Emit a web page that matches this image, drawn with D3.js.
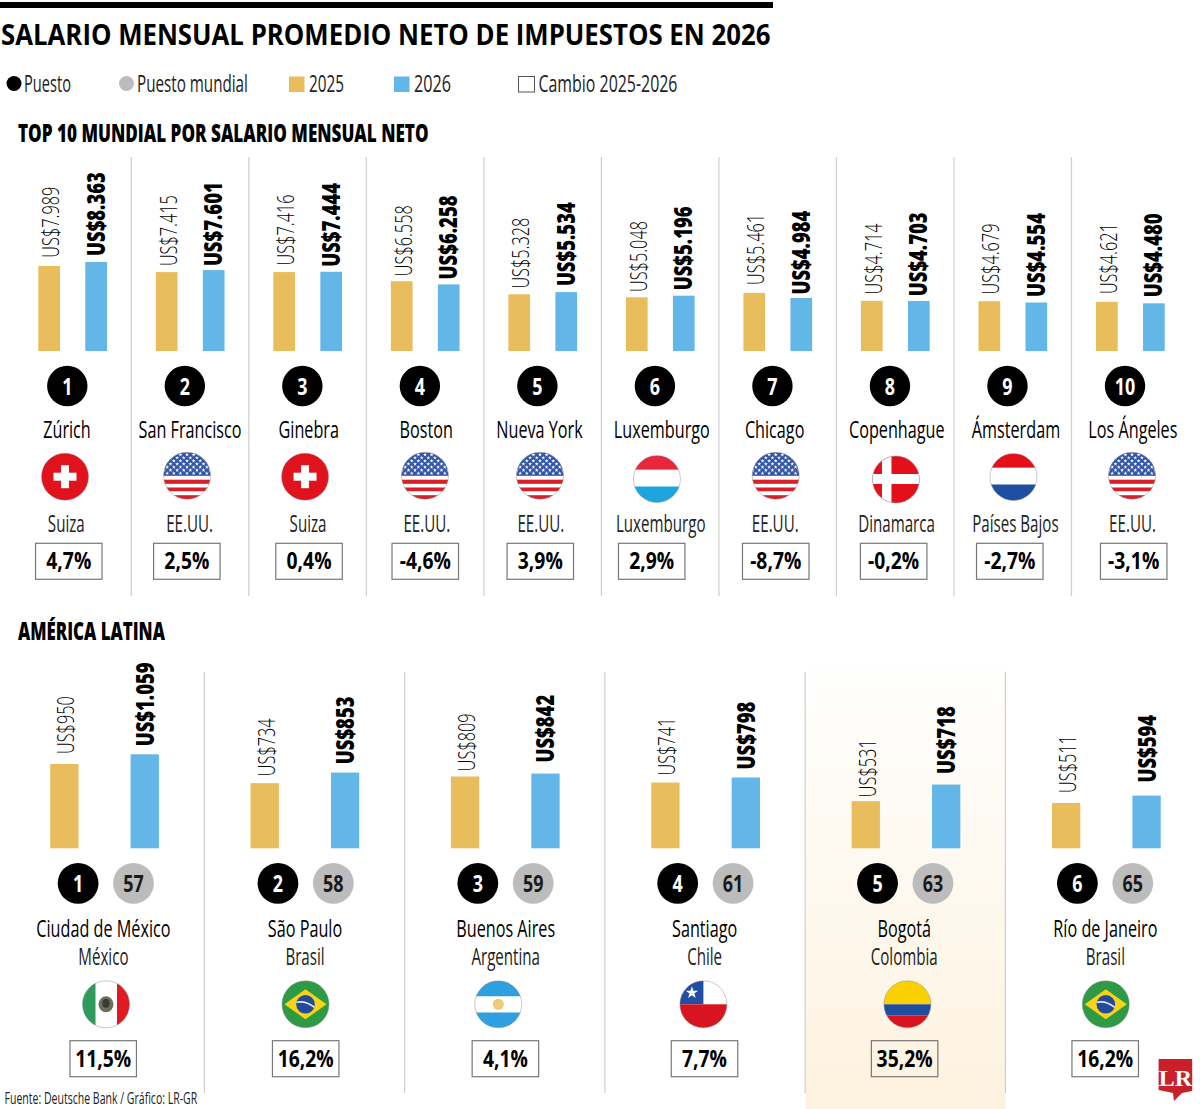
<!DOCTYPE html>
<html lang="es"><head><meta charset="utf-8">
<title>Salario mensual promedio neto de impuestos en 2026</title>
<script src="https://cdn.jsdelivr.net/npm/d3@7/dist/d3.min.js"></script>
<style>html,body{margin:0;padding:0;background:#fff}svg{display:block}text{font-family:"Open Sans",sans-serif;fill:#111}</style>
</head><body><svg id="c" width="1200" height="1109" viewBox="0 0 1200 1109"></svg>
<script>
// ---------- DATA ----------
const topCities = ["Zúrich","San Francisco","Ginebra","Boston","Nueva York","Luxemburgo","Chicago","Copenhague","Ámsterdam","Los Ángeles"];
const topCountries = ["Suiza","EE.UU.","Suiza","EE.UU.","EE.UU.","Luxemburgo","EE.UU.","Dinamarca","Países Bajos","EE.UU."];
const topValues2025 = [7989,7415,7416,6558,5328,5048,5461,4714,4679,4621];
const topValues2026 = [8363,7601,7444,6258,5534,5196,4984,4703,4554,4480];
const topChange = [4.7,2.5,0.4,-4.6,3.9,2.9,-8.7,-0.2,-2.7,-3.1];
const topRanks = [1,2,3,4,5,6,7,8,9,10];

const latamCities = ["Ciudad de México","São Paulo","Buenos Aires","Santiago","Bogotá","Río de Janeiro"];
const latamCountries = ["México","Brasil","Argentina","Chile","Colombia","Brasil"];
const latamValues2025 = [950,734,809,741,531,511];
const latamValues2026 = [1059,853,842,798,718,594];
const latamChange = [11.5,16.2,4.1,7.7,35.2,16.2];
const latamRanks = [1,2,3,4,5,6];
const latamWorldRanks = [57,58,59,61,63,65];

const legendLabels = ["Puesto","Puesto mundial","2025","2026","Cambio 2025-2026"];

// ---------- LAYOUT ----------
const YEL="#e9bd5c", BLU="#62b6e8", GRY="#bcbcbc", SEP="#cfcfcf";
const colTop = d3.scaleLinear().domain([0,9]).range([38.3,1096]);
const colLat = d3.scaleLinear().domain([0,5]).range([50.2,1052]);
const yTop = d3.scaleLinear().domain([0,8363]).range([351,262]);
const yLat = d3.scaleLinear().domain([0,1059]).range([848.3,754.3]);
const topCityDx=[28.7,34.2,35.4,35.4,31.1,35.9,31.2,35.8,37.5,36.9];
const topFlagDx=[26.7,31.2,31.7,34.1,31.6,31,32.3,35,35,36];
const topCountryDx=[28,33.7,34.7,35.9,32.4,34.8,31.8,35.6,36.9,36.5];
const topBoxDx=[30.5,31,35.7,34.4,31.9,25.8,32.3,32.7,31.3,37.7];
const latCellX=[103.4,305,505.7,704.6,904.2,1105.4];
const latFlagX=[106,305.5,498.3,703.4,907.4,1105.8];
const latBoxX=[103.2,305.7,505.4,704.5,904.6,1105.2];
const latRankX=d3.scaleLinear().domain([0,5]).range([78.1,1077.4]);
const latSepX=d3.scaleLinear().domain([0,4]).range([204.4,1005.4]);
// distance between each bar top and its rotated value label
const gapTop25=[9.3,7,7.7,6,6.7,6.3,9,7.4,7.7,8.7];
const gapTop26=[7,5,6,6,7,6.4,4.4,5.7,6.6,7];
const gapLat25=[11,8,6.3,8,5,11];
const gapLat26=[9,9.4,12,9,11.6,14];

const loc = d3.formatLocale({decimal:",",thousands:".",grouping:[3],currency:["US$",""],minus:"-"});
const fmtMoney = loc.format("$,");
const fmtPct = v => loc.format(".1f")(v)+"%";

const svg = d3.select("#c");
const defs = svg.append("defs");
const grad = defs.append("linearGradient").attr("id","hl").attr("x1",0).attr("x2",0).attr("y1",0).attr("y2",1);
grad.append("stop").attr("offset",0).attr("stop-color","#fff");
grad.append("stop").attr("offset",1).attr("stop-color","#fdf2df");

// text helper: condensed look by horizontal scaling
const probe = svg.append("text").attr("opacity",0);
function measure(t,size,weight){probe.text(t).attr("font-size",size).attr("font-weight",weight);return probe.node().getComputedTextLength();}
function txt(g,t,x,y,o){
  const sx = o.width ? o.width/measure(t,o.size,o.weight) : (o.sx||1);
  const rot = o.rotate ? ` rotate(${o.rotate})` : "";
  return g.append("text").text(t).attr("font-size",o.size).attr("font-weight",o.weight)
    .attr("text-anchor",o.anchor||"start").style("fill",o.fill||"#111")
    .attr("transform",`translate(${x},${y})${rot} scale(${sx},1)`);
}
const sxLight = 71/measure("US$7.989",24,300);
const sxBold = 84/measure("US$8.363",25,800);
const sxCity = 103/measure("San Francisco",24,500);
const sxCountry = 89.6/measure("Luxemburgo",23,400);
const sxPct = 45/measure("4,7%",23,700);
const sxRank = 20.5/measure("57",23,700);

// ---------- FLAGS ----------
const flagY = {"Suiza":476.7,"EE.UU.":475.7,"Luxemburgo":479,"Dinamarca":479.5,"Países Bajos":477};
let flagId=0;
function bands(g,rows){
  let y=-23.5; rows.forEach(([h,c])=>{g.append("rect").attr("x",-24).attr("y",y).attr("width",48).attr("height",h).attr("fill",c); y+=h;});
}
function flag(parent,name,x,y){
  const id="fc"+(flagId++);
  defs.append("clipPath").attr("id",id).append("circle").attr("r",23.5);
  const o=parent.append("g").attr("transform",`translate(${x},${y})`);
  const g=o.append("g").attr("clip-path",`url(#${id})`);
  const rect=(a,b,w,h,c)=>g.append("rect").attr("x",a).attr("y",b).attr("width",w).attr("height",h).attr("fill",c);
  if(name==="Suiza"){ rect(-24,-24,48,48,"#e0121c"); rect(-11.5,-4,23,8,"#fff"); rect(-4,-11.5,8,23,"#fff"); }
  else if(name==="EE.UU."){
    bands(g,[[23.7,"#3356a6"],[3.8,"#fff"],[4.2,"#d8202a"],[3.6,"#fff"],[4,"#d8202a"],[3.7,"#fff"],[5,"#d8202a"]]);
    const star=d3.symbol().type(d3.symbolStar).size(5)();
    d3.range(0,4).forEach(r=>d3.range(-4,5).forEach(c=>[0,1].forEach(k=>{
      const sy=-21+k*3.1+r*6.2, sx=c*6.6+(k?3.3:0);
      if(sy<-1) g.append("path").attr("d",star).attr("fill","#fff").attr("transform",`translate(${sx},${sy})`);
    })));
  }
  else if(name==="Luxemburgo") bands(g,[[14.3,"#e8273d"],[16.7,"#fff"],[17,"#1fa5de"]]);
  else if(name==="Países Bajos") bands(g,[[14.3,"#e30f1a"],[16.7,"#fff"],[17,"#1f4fa0"]]);
  else if(name==="Dinamarca"){ rect(-24,-24,48,48,"#e30f1a"); rect(-24,-5.5,48,10,"#fff"); rect(-14,-24,9.5,48,"#fff"); }
  else if(name==="México"){ rect(-24,-24,48,48,"#fff"); rect(-24,-24,13.5,48,"#2f9a5c"); rect(11,-24,13,48,"#e01a22");
    g.append("ellipse").attr("rx",7.5).attr("ry",8).attr("fill","#6e6e5c"); g.append("ellipse").attr("rx",3.5).attr("ry",4.5).attr("cy",-1).attr("fill","#3a3a2e"); }
  else if(name==="Brasil"){ rect(-24,-24,48,48,"#2f9a46");
    g.append("path").attr("d","M-21,0L0,-15L21,0L0,15Z").attr("fill","#f7d417");
    g.append("circle").attr("r",9.3).attr("fill","#234a9b");
    g.append("path").attr("d","M-9,-2Q0,-4 9,3").attr("fill","none").attr("stroke","#dfe7f2").attr("stroke-width",1.6); }
  else if(name==="Argentina"){ bands(g,[[15.7,"#2f9fe0"],[16,"#fff"],[16,"#2f9fe0"]]); g.append("circle").attr("r",5.6).attr("fill","#efcb7a"); }
  else if(name==="Chile"){ rect(-24,-24,48,24,"#fff"); rect(-24,-24,24,24,"#1f4ea3"); rect(-24,0,48,24,"#d7141f");
    g.append("path").attr("d",d3.symbol().type(d3.symbolStar).size(48)()).attr("fill","#fff").attr("transform","translate(-11.5,-11.5)"); }
  else if(name==="Colombia"){ bands(g,[[23.5,"#fbd000"],[11.3,"#1f4e9f"],[13,"#d7141f"]]); }
  o.append("circle").attr("r",23.5).attr("fill","none").attr("stroke","#8a8a8a").attr("stroke-opacity",.45).attr("stroke-width",1);
}

// ---------- HEADER ----------
svg.append("rect").attr("x",0).attr("y",2).attr("width",773).attr("height",6).attr("fill","#000");
txt(svg,"SALARIO MENSUAL PROMEDIO NETO DE IMPUESTOS EN 2026",1,44.5,{size:28,weight:700,width:770,fill:"#000"});

const lg=svg.append("g");
lg.append("circle").attr("cx",14).attr("cy",83.5).attr("r",7.5).attr("fill","#000");
lg.append("circle").attr("cx",126.5).attr("cy",83.5).attr("r",7.5).attr("fill",GRY);
lg.append("rect").attr("x",289).attr("y",76.5).attr("width",15.5).attr("height",15.5).attr("fill",YEL);
lg.append("rect").attr("x",394).attr("y",76.5).attr("width",15.5).attr("height",15.5).attr("fill",BLU);
lg.append("rect").attr("x",518.5).attr("y",76.5).attr("width",16).attr("height",15.5).attr("fill","#fff").attr("stroke","#555").attr("stroke-width",1);
const legendX=[24,137,309,414,538.5], legendW=[47,111,35,37,139];
legendLabels.forEach((t,i)=>txt(lg,t,legendX[i],92,{size:23,weight:400,width:legendW[i],fill:"#222"}));

txt(svg,"TOP 10 MUNDIAL POR SALARIO MENSUAL NETO",18,142,{size:24,weight:800,width:411,fill:"#000"});
txt(svg,"AMÉRICA LATINA",18,640,{size:24,weight:800,width:147,fill:"#000"});

// ---------- HIGHLIGHT ----------
svg.append("rect").attr("x",805.6).attr("y",655).attr("width",199.8).attr("height",454).attr("fill","url(#hl)");

// ---------- SEPARATORS ----------
svg.append("g").selectAll("line").data(d3.range(9)).join("line")
  .attr("x1",i=>colTop(i)+93).attr("x2",i=>colTop(i)+93).attr("y1",157).attr("y2",596)
  .attr("stroke",SEP).attr("stroke-width",1.2);
svg.append("g").selectAll("line").data(d3.range(5)).join("line")
  .attr("x1",i=>latSepX(i)).attr("x2",i=>latSepX(i)).attr("y1",672).attr("y2",1093)
  .attr("stroke",SEP).attr("stroke-width",1.2);

// ---------- BARS + VALUE LABELS ----------
function barGroup(values,cls,colScale,yScale,dx,w,fill,gaps,baseDx,weight,sx,size,color){
  const g=svg.append("g").attr("class",cls);
  g.selectAll("rect").data(values).join("rect")
    .attr("x",(d,i)=>colScale(i)+dx).attr("y",d=>yScale(d))
    .attr("width",w).attr("height",d=>yScale(0)-yScale(d)).attr("fill",fill);
  values.forEach((d,i)=>txt(g,fmtMoney(d),colScale(i)+dx+w/2+baseDx,yScale(d)-gaps[i]+1,{size,weight,sx,rotate:-90,fill:color}));
}
barGroup(topValues2025,"top25",colTop,yTop,0,21.7,YEL,gapTop25,10,300,sxLight,24,"#000");
barGroup(topValues2026,"top26",colTop,yTop,47,21.7,BLU,gapTop26,8.5,800,sxBold,25,"#000");
barGroup(latamValues2025,"lat25",colLat,yLat,0,28.3,YEL,gapLat25,10,300,sxLight,24,"#000");
barGroup(latamValues2026,"lat26",colLat,yLat,80.4,28.3,BLU,gapLat26,9,800,sxBold,25,"#000");

// ---------- RANKS ----------
function rankDot(x,cy,r,fill,label,color){
  svg.append("circle").attr("cx",x).attr("cy",cy).attr("r",r).attr("fill",fill);
  txt(svg,label,x,cy+8.6,{size:23,weight:700,sx:sxRank,anchor:"middle",fill:color});
}
topRanks.forEach((d,i)=>rankDot(colTop(i)+29,386,20.2,"#000",String(d),"#fff"));
latamRanks.forEach((d,i)=>rankDot(latRankX(i),883.3,20.4,"#000",String(d),"#fff"));
latamWorldRanks.forEach((d,i)=>rankDot(latRankX(i)+55.4,883.3,20.4,GRY,String(d),"#1a1a1a"));

// ---------- CHANGE BOX ----------
function changeBox(x,y,w,v){
  svg.append("rect").attr("x",x-w/2).attr("y",y).attr("width",w).attr("height",36).attr("fill","none")
    .attr("stroke","#777").attr("stroke-width",1.2);
  txt(svg,fmtPct(v),x,y+26,{size:23,weight:700,sx:sxPct,anchor:"middle",fill:"#000"});
}

// ---------- TOP 10 CELLS ----------
topCities.forEach((c,i)=>{
  const x0=colTop(i);
  txt(svg,c,x0+topCityDx[i],438,{size:24,weight:500,sx:sxCity,anchor:"middle",fill:"#000"});
  flag(svg,topCountries[i],x0+topFlagDx[i],flagY[topCountries[i]]);
  txt(svg,topCountries[i],x0+topCountryDx[i],531.5,{size:23,weight:400,sx:sxCountry,anchor:"middle",fill:"#222"});
  changeBox(x0+topBoxDx[i],543.3,66.5,topChange[i]);
});

// ---------- LATAM CELLS ----------
latamCities.forEach((c,i)=>{
  txt(svg,c,latCellX[i],937.3,{size:24,weight:500,sx:sxCity,anchor:"middle",fill:"#000"});
  txt(svg,latamCountries[i],latCellX[i],965,{size:23,weight:400,sx:sxCountry,anchor:"middle",fill:"#222"});
  flag(svg,latamCountries[i],latFlagX[i],1004.3);
  changeBox(latBoxX[i],1040.7,66.5,latamChange[i]);
});

// ---------- FOOTER ----------
txt(svg,"Fuente: Deutsche Bank / Gráfico: LR-GR",4.5,1104,{size:16,weight:400,width:193,fill:"#222"});
svg.append("path").attr("d","M1158.6,1059H1192.2V1091L1182,1093L1174,1101L1173,1093L1158.6,1090Z").attr("fill","#c9202a");
svg.append("text").text("LR").attr("x",1175.5).attr("y",1086).attr("text-anchor","middle")
  .attr("font-size",24).attr("font-weight",700).style("font-family","'Liberation Serif',serif").style("fill","#fff");
probe.remove();
</script></body></html>
